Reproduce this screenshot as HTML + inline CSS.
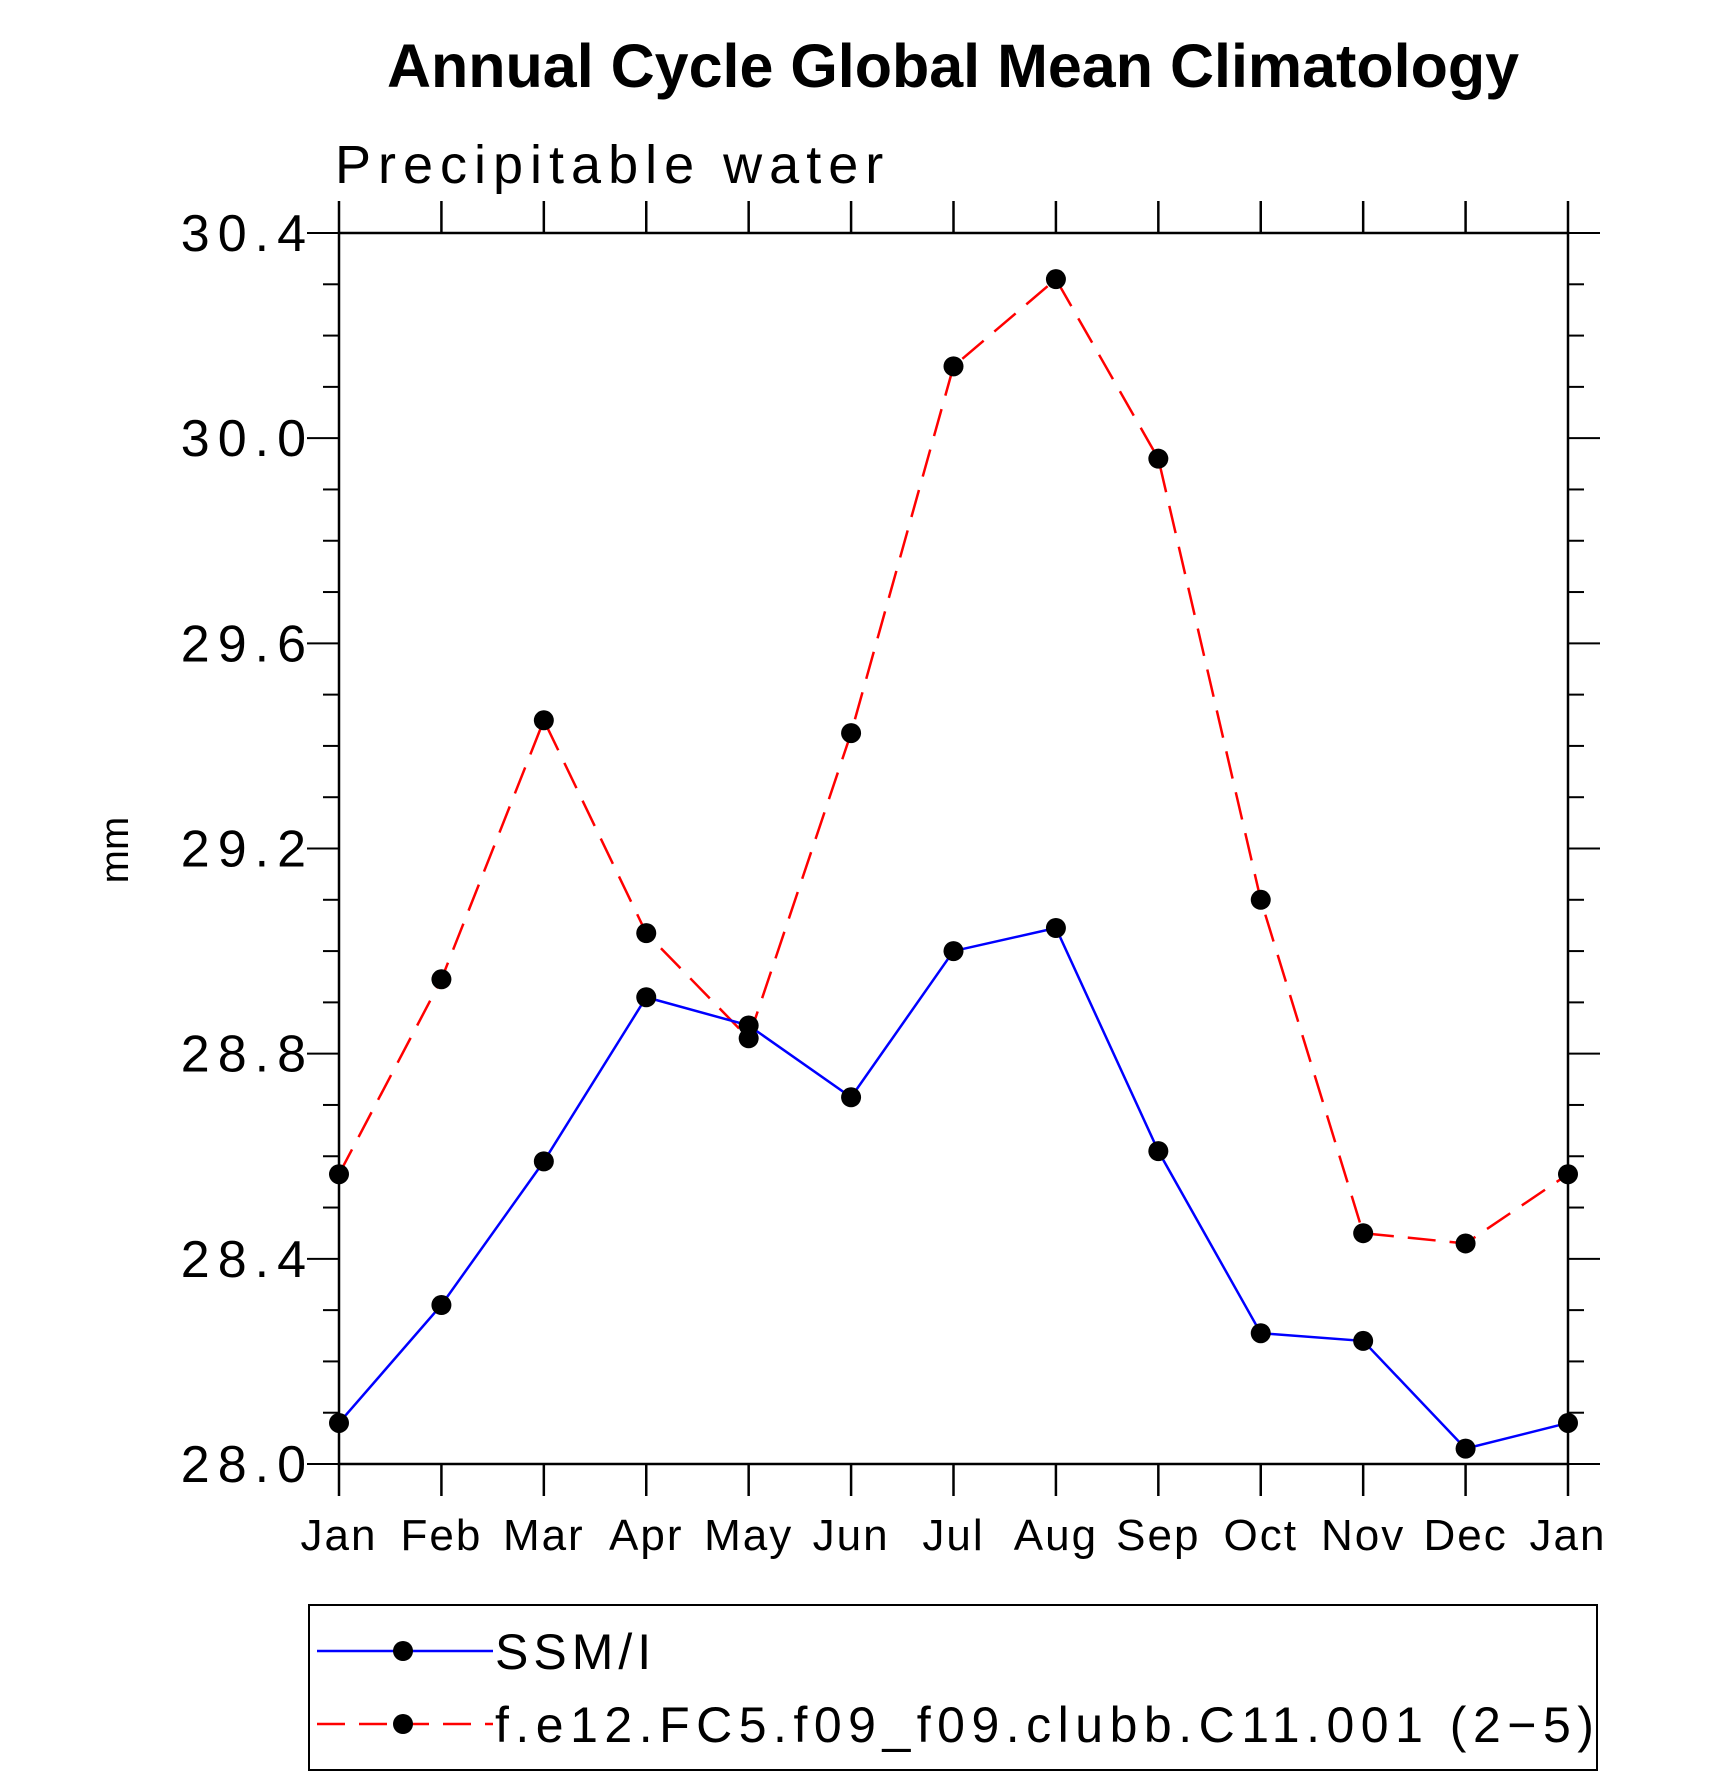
<!DOCTYPE html>
<html><head><meta charset="utf-8"><style>
html,body{margin:0;padding:0;background:#fff}
svg{display:block}
text{font-family:"Liberation Sans",sans-serif}
</style></head><body>
<svg id="chart" width="1710" height="1778" viewBox="0 0 1710 1778" xmlns="http://www.w3.org/2000/svg">
<text x="953" y="87" text-anchor="middle" font-size="61" font-weight="bold">Annual Cycle Global Mean Climatology</text>
<text x="335" y="183" font-size="54" font-weight="300" letter-spacing="7">Precipitable water</text>
<text transform="translate(128,850) rotate(-90)" text-anchor="middle" font-size="40">mm</text>
<g id="axes"></g>
<g id="series"></g>
<g>
<rect x="309" y="1605" width="1288" height="165" fill="none" stroke="#000" stroke-width="2"/>
<line x1="317" y1="1651" x2="493" y2="1651" stroke="#00f" stroke-width="2.5"/>
<circle cx="403" cy="1651" r="10" fill="#000"/>
<text x="495" y="1669" font-size="50" font-weight="300" letter-spacing="5">SSM/I</text>
<line x1="317" y1="1724" x2="493" y2="1724" stroke="#f00" stroke-width="2.5" stroke-dasharray="28,14"/>
<circle cx="403" cy="1724" r="10" fill="#000"/>
<text x="495" y="1742" font-size="50" font-weight="300" letter-spacing="6.5">f.e12.FC5.f09_f09.clubb.C11.001 (2−5)</text>
</g>
</svg>
<script>
const months = ["Jan","Feb","Mar","Apr","May","Jun","Jul","Aug","Sep","Oct","Nov","Dec","Jan"];
const ssmi = [28.08,28.31,28.59,28.91,28.855,28.715,29.0,29.045,28.61,28.255,28.24,28.03,28.08];
const model = [28.565,28.945,29.45,29.035,28.83,29.425,30.14,30.31,29.96,29.1,28.45,28.43,28.565];
const yTicks = ["28.0","28.4","28.8","29.2","29.6","30.0","30.4"];
const NS="http://www.w3.org/2000/svg";
const L=339,R=1568,T=233,B=1464,YMIN=28,YMAX=30.4;
const xs=i=>L+(R-L)*i/12;
const ys=v=>B-(v-YMIN)/(YMAX-YMIN)*(B-T);
function mk(tag,attrs,parent){const e=document.createElementNS(NS,tag);for(const k in attrs)e.setAttribute(k,attrs[k]);parent.appendChild(e);return e;}
const ax=document.getElementById('axes');
let fr=mk('rect',{x:L,y:T,width:R-L,height:B-T,fill:'none',stroke:'#000','stroke-width':2.5},ax);


for(let i=0;i<months.length;i++){
  const x=xs(i);
  mk('line',{x1:x,y1:B,x2:x,y2:B+32,stroke:'#000','stroke-width':2.5},ax);
  mk('line',{x1:x,y1:T,x2:x,y2:T-32,stroke:'#000','stroke-width':2.5},ax);
  const t=mk('text',{x:x,y:B+86,'text-anchor':'middle','font-size':44,'font-weight':300,'letter-spacing':2},ax);
  t.textContent=months[i];
  
  
}
for(let k=0;k<=24;k++){
  const v=YMIN+k*0.1,y=ys(v),major=k%4===0,len=major?32:16;
  mk('line',{x1:L-len,y1:y,x2:L,y2:y,stroke:'#000','stroke-width':2},ax);
  mk('line',{x1:R,y1:y,x2:R+len,y2:y,stroke:'#000','stroke-width':2},ax);
}
yTicks.forEach(s=>{
  const t=mk('text',{x:314,y:ys(parseFloat(s))+18,'text-anchor':'end','font-size':52,'font-weight':300,'letter-spacing':8},ax);
  t.textContent=s;
  
  
});
const sg=document.getElementById('series');
function draw(vals,color,dash,name){
  const p=mk('polyline',{points:vals.map((v,i)=>xs(i)+','+ys(v)).join(' '),fill:'none',stroke:color,'stroke-width':2.5,'stroke-dasharray':dash},sg);
  
  
  vals.forEach((v,i)=>{
    const c=mk('circle',{cx:xs(i),cy:ys(v),r:10,fill:'#000'},sg);
    
    
  });
}
draw(model,'#f00','28,14','model');
draw(ssmi,'#00f','none','ssmi');
</script>
</body></html>
